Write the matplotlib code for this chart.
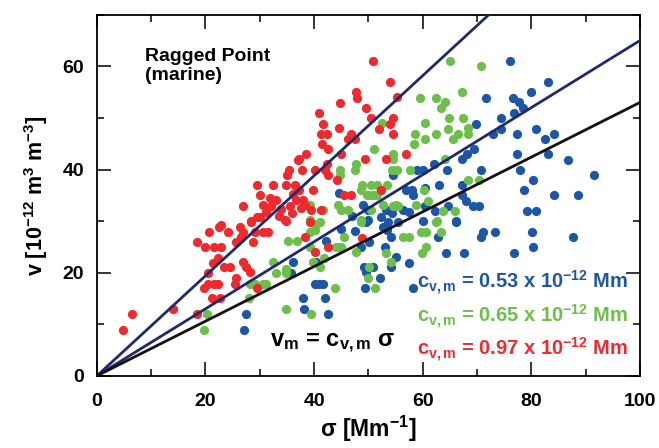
import matplotlib
matplotlib.use("Agg")
import matplotlib.pyplot as plt
import numpy as np
from matplotlib.ticker import MultipleLocator

# scattering (Mm-1) vs volume (10^-12 m3 m-3), one set per colour
red_x = [4.8, 6.5, 14.0, 18.5, 18.5, 20.6, 20.0, 21.5, 22.4, 21.4, 22.3, 20.5, 20.5, 21.5, 19.7, 21.2,
         24.2, 25.7, 26.3, 26.6, 26.9, 28.4, 30.0, 29.1, 28.8, 30.6, 31.5, 34.6, 22.9, 23.5, 24.5,
         25.4, 25.7, 26.9, 27.5, 28.2, 29.4, 38.3, 40.1, 42.6, 22.3, 22.6,
         38.6, 37.0, 35.4, 35.0, 29.5, 32.4, 34.8, 36.4, 30.0, 26.9, 30.6, 31.2, 29.4, 28.3, 22.9,
         34.0, 36.7, 36.1, 34.9, 32.0, 33.0, 35.5, 37.5, 36.0, 33.5, 31.8, 38.0,
         50.8, 53.9, 47.7, 47.9, 44.8, 55.3, 49.5, 40.9, 41.6, 50.4, 54.6, 53.9, 51.9, 54.5, 44.6,
         41.2, 42.4, 46.8, 46.2, 47.5, 41.5, 42.6, 45.0, 37.3, 57.0, 49.4, 53.2, 42.4, 42.1, 40.1,
         37.8, 42.6, 44.2, 39.8, 52.4, 45.6, 46.8, 38.3, 39.5, 41.3, 39.2, 37.3, 48.8]
red_y = [8.9, 11.9, 12.9, 11.9, 26.0, 27.9, 24.9, 24.9, 28.9, 21.9, 22.9, 20.0, 17.9, 17.9, 17.0, 15.0,
         27.9, 26.0, 28.9, 27.0, 27.9, 29.9, 30.8, 27.9, 26.0, 27.9, 27.9, 30.2, 25.0, 21.2, 21.2,
         17.9, 18.9, 22.1, 21.2, 20.2, 17.0, 27.0, 24.1, 25.0, 17.9, 15.0,
         43.0, 41.9, 40.0, 38.9, 37.0, 37.0, 37.0, 37.0, 35.0, 32.9, 33.1, 31.8, 30.8, 30.0, 29.2,
         32.4, 34.1, 35.3, 30.0, 33.0, 34.0, 33.0, 32.5, 31.5, 31.0, 34.5, 34.0,
         61.0, 57.0, 55.0, 53.9, 52.9, 54.1, 52.0, 51.0, 48.9, 50.0, 50.0, 48.9, 47.9, 46.9, 48.0,
         46.9, 46.9, 46.9, 46.0, 46.0, 45.0, 43.9, 43.0, 42.0, 43.0, 42.0, 42.0, 41.0, 40.0, 40.0,
         40.0, 39.0, 37.9, 36.0, 36.0, 35.0, 35.0, 33.1, 32.1, 32.1, 29.9, 36.0, 26.8]

green_x = [20.3, 19.7, 28.2, 29.1, 30.6, 31.2, 28.0, 32.4, 33.0, 34.8, 34.9, 35.2, 36.9, 39.5, 39.8,
           39.2, 39.2, 40.4, 39.2, 40.1, 34.9, 41.9, 41.0, 43.8, 44.4,
           45.6, 44.1, 45.0, 47.8, 48.7, 56.4, 57.4, 59.7, 60.6, 63.4, 62.5, 60.6, 59.9, 53.2, 54.2,
           50.2, 50.0, 51.2,
           59.5, 60.5, 52.6, 58.5, 58.4, 60.4, 51.1, 54.6, 54.5, 47.7, 47.5, 44.8, 44.7, 54.4, 55.3,
           57.6, 48.9, 50.5, 51.6, 53.4, 48.7, 50.2, 51.6, 61.0, 39.2, 41.6, 44.4, 45.0, 46.2, 50.5,
           52.7, 55.1, 58.8, 41.0, 48.7, 49.7, 50.8, 54.5, 55.4,
           65.1, 70.7, 67.2, 62.5, 64.1, 63.4, 64.8, 67.5, 64.6, 68.4, 68.4, 66.5, 62.4, 65.6, 64.2,
           68.4, 70.3, 60.3, 63.7, 65.9, 62.6]
green_y = [11.9, 8.9, 17.8, 17.8, 17.9, 17.9, 15.1, 22.0, 19.9, 19.9, 13.0, 26.1, 26.1, 12.0, 22.0,
           24.9, 30.2, 29.5, 27.9, 28.3, 20.8, 22.8, 21.2, 17.0, 25.0,
           27.0, 25.0, 25.0, 24.1, 29.9, 27.0, 27.0, 27.9, 27.9, 27.9, 29.9, 24.9, 23.9, 23.9, 22.1,
           21.2, 19.0, 17.0,
           53.9, 49.0, 49.0, 46.9, 45.0, 46.0, 43.9, 43.0, 42.0, 41.0, 40.0, 40.0, 39.0, 40.0, 40.0,
           40.0, 37.0, 37.0, 37.0, 37.0, 36.0, 35.0, 35.0, 33.9, 33.1, 32.1, 33.1, 32.1, 32.1, 32.1,
           33.1, 33.1, 33.1, 29.9, 30.2, 35.0, 35.0, 33.0, 33.0,
           61.0, 60.0, 55.0, 53.9, 53.0, 51.9, 50.0, 50.0, 47.9, 48.0, 46.9, 46.9, 46.9, 46.0, 42.0,
           37.9, 37.9, 36.0, 31.9, 31.9, 30.1]

blue_x = [27.4, 27.1, 36.2, 35.8, 38.0, 38.1, 40.1, 40.9, 41.6, 42.0, 42.6, 42.2, 40.4,
          49.3, 49.6, 49.2, 50.9, 52.2, 54.2, 55.0, 57.4, 53.0, 58.2, 64.3, 62.9, 50.1, 48.7, 50.0,
          52.7, 54.2, 53.5,
          67.7, 66.2, 70.7, 71.1, 73.3, 76.9, 80.1, 80.3, 87.6,
          84.1, 86.7, 91.6, 84.1, 88.6,
          76.0, 71.7, 76.6, 80.0, 83.1, 77.7, 78.4, 76.8, 74.4, 69.9, 74.4, 72.9, 77.4, 80.8, 82.5,
          83.1, 69.5, 68.2, 67.3, 77.4, 62.0, 60.1, 64.5, 70.7, 78.0, 80.4, 63.0, 67.2, 78.7, 67.2,
          68.0, 69.2, 70.3, 64.6, 60.5, 62.3, 79.2, 80.9, 60.1, 66.2,
          58.9, 54.6, 56.9, 58.1, 60.5, 49.0, 49.9, 53.3, 54.4, 56.4, 57.5, 52.4, 49.6, 53.6, 55.5,
          58.2, 45.0, 47.0, 44.5, 47.5]
blue_y = [12.0, 8.9, 22.0, 19.9, 15.1, 13.0, 17.9, 17.9, 17.9, 15.1, 12.0, 26.2, 22.1,
          17.0, 20.2, 21.2, 21.2, 19.0, 21.2, 23.0, 21.9, 24.9, 17.0, 23.9, 27.0, 26.0, 24.9, 30.2,
          28.9, 27.0, 28.2,
          23.9, 29.9, 27.0, 27.9, 27.9, 23.9, 27.9, 24.9, 27.0,
          46.9, 41.9, 39.0, 35.0, 35.0,
          61.0, 53.9, 53.9, 55.0, 57.0, 53.0, 51.9, 51.0, 50.0, 48.9, 47.9, 46.9, 46.9, 47.9, 46.0,
          43.0, 43.9, 43.0, 42.0, 43.0, 41.0, 40.0, 40.0, 40.0, 40.0, 37.9, 37.0, 37.0, 36.0, 35.0,
          33.9, 32.9, 32.9, 32.9, 32.9, 31.9, 31.9, 31.9, 30.1, 30.1,
          40.0, 39.0, 36.0, 36.0, 36.5, 33.1, 32.1, 32.1, 31.5, 32.1, 31.8, 30.8, 29.9, 29.9, 29.9,
          35.0, 28.5, 31.0, 35.5, 28.0]

# fitted mass scattering efficiencies, 10^-12 Mm
slopes = [0.97, 0.65, 0.53]
line_colors = ['#1f2a6b', '#1f2a6b', '#111111']

RED = '#ee2a2e'
GREEN = '#6cbf4a'
BLUE = '#1d56a6'

plt.rcParams['font.family'] = 'Liberation Sans'
plt.rcParams['font.weight'] = 'bold'
plt.rcParams['axes.labelweight'] = 'bold'
plt.rcParams['mathtext.fontset'] = 'custom'
plt.rcParams['mathtext.rm'] = 'Liberation Sans:bold'
plt.rcParams['mathtext.it'] = 'Liberation Sans:bold'
plt.rcParams['mathtext.bf'] = 'Liberation Sans:bold'
plt.rcParams['mathtext.sf'] = 'Liberation Sans:bold'

fig = plt.figure(figsize=(6.59, 4.48), dpi=100)
ax = fig.add_axes([0.147, 0.161, 0.824, 0.806])

ax.scatter(blue_x, blue_y, s=44, color=BLUE, linewidths=0, zorder=2)
ax.scatter(green_x, green_y, s=44, color=GREEN, linewidths=0, zorder=2)
ax.scatter(red_x, red_y, s=44, color=RED, linewidths=0, zorder=2)

xx = np.array([0, 100])
for k, c in zip(slopes, line_colors):
    ax.plot(xx, k * xx, color=c, lw=2.0, zorder=3)

ax.set_xlim(0, 100)
ax.set_ylim(0, 70)
ax.xaxis.set_major_locator(MultipleLocator(20))
ax.xaxis.set_minor_locator(MultipleLocator(10))
ax.yaxis.set_major_locator(MultipleLocator(20))
ax.yaxis.set_minor_locator(MultipleLocator(10))
ax.tick_params(which='both', direction='in', top=True, right=True, width=1.1, labelsize=14)
ax.tick_params(which='major', length=10)
ax.tick_params(which='minor', length=5)
ax.tick_params(axis='x', pad=12)
ax.tick_params(axis='y', pad=9)
for sp in ax.spines.values():
    sp.set_linewidth(1.3)

ax.set_xlabel('σ [Mm$^{-1}$]', fontsize=16.5, labelpad=3)
ax.set_ylabel('v [10$^{-12}$ m$^{3}$ m$^{-3}$]', fontsize=15.5, labelpad=9)

ax.text(8.8, 63.6, 'Ragged Point\n(marine)', fontsize=14, va='top', ha='left', linespacing=1.15)

ax.text(31.8, 5.6, 'v$_{\\rm m}$ = c$_{\\rm v,m}$ σ', fontsize=17, va='baseline', ha='left')
ax.text(97.9, 16.8, 'c$_{\\rm v,m}$ = 0.53 x 10$^{-12}$ Mm', fontsize=14.5, color=BLUE,
        va='baseline', ha='right')
ax.text(97.9, 10.3, 'c$_{\\rm v,m}$ = 0.65 x 10$^{-12}$ Mm', fontsize=14.5, color=GREEN,
        va='baseline', ha='right')
ax.text(97.9, 3.9, 'c$_{\\rm v,m}$ = 0.97 x 10$^{-12}$ Mm', fontsize=14.5, color=RED,
        va='baseline', ha='right')

fig.savefig('out.png', dpi=100)
